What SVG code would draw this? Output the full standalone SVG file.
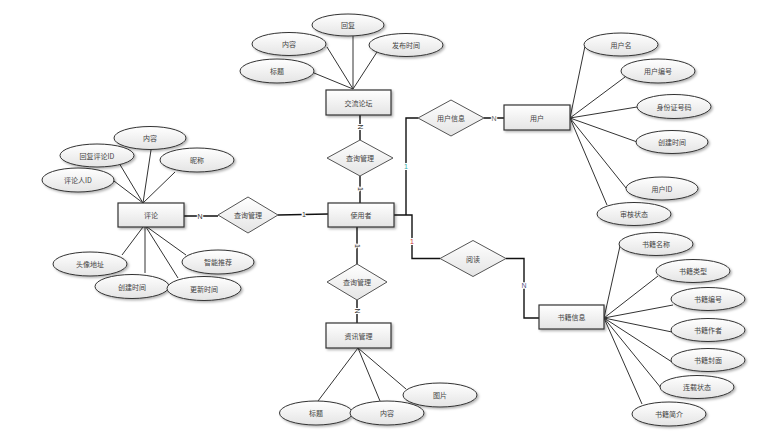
<svg xmlns="http://www.w3.org/2000/svg" width="760" height="447" viewBox="0 0 760 447">
<defs>
<linearGradient id="g" x1="0" y1="0" x2="0" y2="1"><stop offset="0" stop-color="#ffffff"/><stop offset="1" stop-color="#e4e4e4"/></linearGradient>
<filter id="sh" x="-20%" y="-30%" width="150%" height="180%"><feDropShadow dx="1.5" dy="1.5" stdDeviation="1" flood-color="#000" flood-opacity="0.3"/></filter>
<style>
.e{fill:url(#g);stroke:#333;stroke-width:1;filter:url(#sh)}
.r{fill:url(#g);stroke:#333;stroke-width:1.2;filter:url(#sh)}
.d{fill:url(#g);stroke:#555;stroke-width:1}
.t{font-family:"Noto Sans CJK SC","Noto Sans",sans-serif;font-size:7px;fill:#444;text-anchor:middle;dominant-baseline:central}
.a{stroke:#333;stroke-width:1;fill:none}
.m{stroke:#111;stroke-width:1.4;fill:none}
.l{font-family:"Liberation Sans",sans-serif;font-size:7px;fill:#333;text-anchor:middle;dominant-baseline:central;paint-order:stroke;stroke:#fff;stroke-width:2}
</style>
</defs>
<g id="connectors">
<path class="a" d="M353,89L353,36M353,89L327,47M353,89L377,52M353,89L314,73"/>
<path class="m" d="M360,115L360,140M360,176L360,203M357,227L357,264M357,300L357,323"/>
<path class="a" d="M358,348L318,401M358,348L380,401M358,348L406,389"/>
<path class="a" d="M143,203L151,150M143,203L119,163M143,203L175,172M143,203L114,181"/>
<path class="a" d="M143,227L122,255M145,227L145,273M146,227L178,278M147,227L186,255"/>
<path class="m" d="M184,216L218,216M278,215L328,214"/>
<path class="m" d="M394,215L412,215L412,258.5L440,258.5M406,215L406,118L418,118M484,118L504,118"/>
<path class="a" d="M570,118L585,46M570,118L625,77M570,118L637,107M570,118L640,143M570,118L626,188M570,118L607,205"/>
<path class="m" d="M506,258.5L524,258.5L524,318L539,318"/>
<path class="a" d="M604,318L620,246M604,318L658,276M604,318L673,305M604,318L672,332M604,318L672,362M604,318L661,388M604,318L642,404"/>
<text class="l" transform="translate(360,127) rotate(90)">N</text>
<text class="l" transform="translate(360,189) rotate(90)">1</text>
<text class="l" transform="translate(357,246) rotate(90)">1</text>
<text class="l" transform="translate(357,311) rotate(90)">N</text>
<text class="l" x="200" y="216">N</text>
<text class="l" x="304" y="214">1</text>
<text class="l" x="494" y="118" style="fill:#666">N</text>
<text class="l" x="406" y="166" style="fill:#3aa">1</text>
<text class="l" x="412" y="241" style="fill:#c33">1</text>
<text class="l" x="524" y="285" style="fill:#558">N</text>
</g>
<g id="forum"><rect class="r" x="326" y="90" width="65" height="25"/><text class="t" x="358.5" y="102.5">交流论坛</text></g>
<g id="forum-reply"><ellipse class="e" cx="348" cy="25" rx="36" ry="11"/><text class="t" x="348" y="25">回复</text></g>
<g id="forum-content"><ellipse class="e" cx="289" cy="44" rx="37" ry="11.5"/><text class="t" x="289" y="44">内容</text></g>
<g id="forum-time"><ellipse class="e" cx="406" cy="45" rx="37" ry="11.5"/><text class="t" x="406" y="45">发布时间</text></g>
<g id="forum-title"><ellipse class="e" cx="277" cy="71" rx="37" ry="12"/><text class="t" x="277" y="71">标题</text></g>
<g id="rel-forum"><polygon class="d" points="360,140 393,158 360,176 327,158"/><text class="t" x="360" y="158">查询管理</text></g>
<g id="user-main"><rect class="r" x="328" y="203" width="66" height="24"/><text class="t" x="361" y="215">使用者</text></g>
<g id="rel-comment"><polygon class="d" points="248,197 278,215 248,233 218,215"/><text class="t" x="248" y="215">查询管理</text></g>
<g id="comment"><rect class="r" x="118" y="203" width="66" height="24"/><text class="t" x="151" y="215">评论</text></g>
<g id="c-content"><ellipse class="e" cx="150" cy="138" rx="36" ry="11.5"/><text class="t" x="150" y="138">内容</text></g>
<g id="c-replyid"><ellipse class="e" cx="97" cy="155.5" rx="37" ry="11.5"/><text class="t" x="97" y="155.5">回复评论ID</text></g>
<g id="c-nick"><ellipse class="e" cx="197" cy="160" rx="37" ry="12"/><text class="t" x="197" y="160">昵称</text></g>
<g id="c-userid"><ellipse class="e" cx="78" cy="180" rx="36" ry="12"/><text class="t" x="78" y="180">评论人ID</text></g>
<g id="c-avatar"><ellipse class="e" cx="90" cy="264" rx="37" ry="12"/><text class="t" x="90" y="264">头像地址</text></g>
<g id="c-recommend"><ellipse class="e" cx="218" cy="262" rx="36" ry="12"/><text class="t" x="218" y="262">智能推荐</text></g>
<g id="c-created"><ellipse class="e" cx="132" cy="286.5" rx="37" ry="12"/><text class="t" x="132" y="286.5">创建时间</text></g>
<g id="c-updated"><ellipse class="e" cx="204" cy="288.5" rx="37" ry="12"/><text class="t" x="204" y="288.5">更新时间</text></g>
<g id="rel-news"><polygon class="d" points="357,264 387,282 357,300 327,282"/><text class="t" x="357" y="282">查询管理</text></g>
<g id="news"><rect class="r" x="326" y="323" width="65" height="25"/><text class="t" x="358.5" y="335.5">资讯管理</text></g>
<g id="n-pic"><ellipse class="e" cx="440" cy="395" rx="37" ry="12"/><text class="t" x="440" y="395">图片</text></g>
<g id="n-title"><ellipse class="e" cx="316" cy="413" rx="36.5" ry="12"/><text class="t" x="316" y="413">标题</text></g>
<g id="n-content"><ellipse class="e" cx="387" cy="413" rx="37" ry="12"/><text class="t" x="387" y="413">内容</text></g>
<g id="rel-userinfo"><polygon class="d" points="451,100 484,118 451,136 418,118"/><text class="t" x="451" y="118">用户信息</text></g>
<g id="user"><rect class="r" x="504" y="105" width="66" height="25"/><text class="t" x="537" y="117.5">用户</text></g>
<g id="u-name"><ellipse class="e" cx="621" cy="44.5" rx="37" ry="11.5"/><text class="t" x="621" y="44.5">用户名</text></g>
<g id="u-no"><ellipse class="e" cx="658" cy="71" rx="37" ry="12"/><text class="t" x="658" y="71">用户编号</text></g>
<g id="u-idcard"><ellipse class="e" cx="674" cy="106.5" rx="37" ry="12"/><text class="t" x="674" y="106.5">身份证号码</text></g>
<g id="u-created"><ellipse class="e" cx="672" cy="142" rx="36" ry="11.5"/><text class="t" x="672" y="142">创建时间</text></g>
<g id="u-id"><ellipse class="e" cx="662" cy="188.5" rx="36" ry="11.5"/><text class="t" x="662" y="188.5">用户ID</text></g>
<g id="u-status"><ellipse class="e" cx="634" cy="214" rx="37" ry="11.5"/><text class="t" x="634" y="214">审核状态</text></g>
<g id="rel-read"><polygon class="d" points="473,240.5 506,258.5 473,276.5 440,258.5"/><text class="t" x="473" y="258.5">阅读</text></g>
<g id="book"><rect class="r" x="539" y="305" width="65" height="24"/><text class="t" x="571.5" y="317">书籍信息</text></g>
<g id="b-name"><ellipse class="e" cx="656" cy="244" rx="37" ry="11.5"/><text class="t" x="656" y="244">书籍名称</text></g>
<g id="b-type"><ellipse class="e" cx="693" cy="271" rx="37" ry="11.5"/><text class="t" x="693" y="271">书籍类型</text></g>
<g id="b-no"><ellipse class="e" cx="708" cy="299" rx="37" ry="11.5"/><text class="t" x="708" y="299">书籍编号</text></g>
<g id="b-author"><ellipse class="e" cx="708" cy="330" rx="37" ry="11.5"/><text class="t" x="708" y="330">书籍作者</text></g>
<g id="b-cover"><ellipse class="e" cx="708" cy="360" rx="37" ry="11.5"/><text class="t" x="708" y="360">书籍封面</text></g>
<g id="b-serial"><ellipse class="e" cx="697" cy="387" rx="37" ry="11.5"/><text class="t" x="697" y="387">连载状态</text></g>
<g id="b-intro"><ellipse class="e" cx="669" cy="414" rx="37" ry="12"/><text class="t" x="669" y="414">书籍简介</text></g>
</svg>
